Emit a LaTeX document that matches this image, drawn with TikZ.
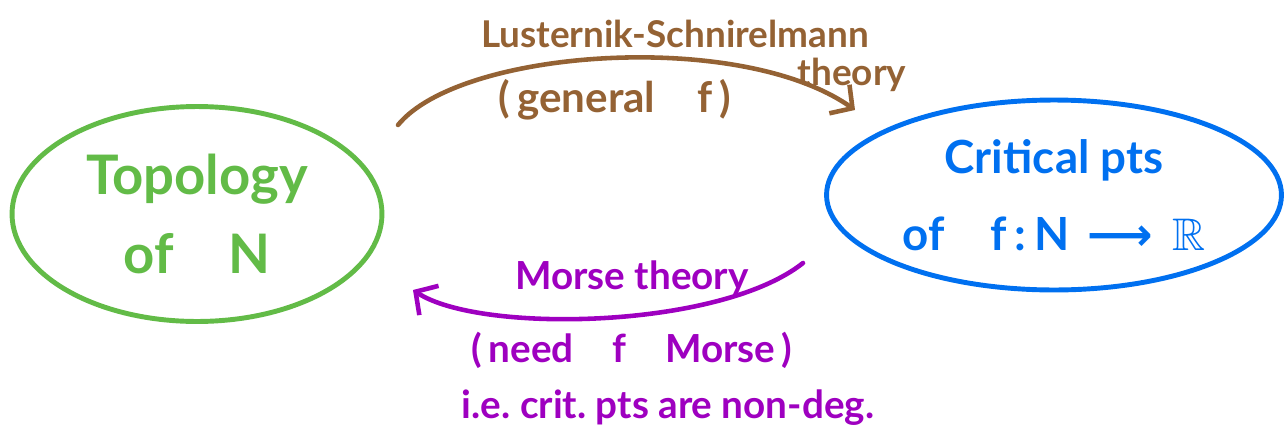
\documentclass[tikz,border=0pt]{standalone}
\usepackage{amssymb}
\usepackage{fontspec}
\setmainfont{Lato}
\newfontfamily\arrowfont{DejaVu Sans}
\usetikzlibrary{shapes.geometric,arrows.meta}

\definecolor{topogreen}{RGB}{98,187,71}
\definecolor{critblue}{RGB}{0,112,240}
\definecolor{lsbrown}{RGB}{148,98,52}
\definecolor{morsepurple}{RGB}{158,0,192}

\begin{document}
\begin{tikzpicture}[x=0.02cm,y=0.02cm,
    blob/.style={ellipse,draw,line width=2.8pt,align=center,inner sep=0pt},
    handarrow/.style={line width=2.6pt,line cap=round,
      -{Straight Barb[length=3.2mm,width=7mm]}}]

        \useasboundingbox (0,0) rectangle (1288,434);

        % the two regions
        \node[blob,draw=topogreen,text=topogreen,minimum width=7.4cm,minimum height=4.3cm,
          font=\fontsize{31}{45}\selectfont\bfseries] (topo) at (197,220) {Topology\\of\quad N};
        \node[blob,draw=critblue,text=critblue,minimum width=9.1cm,minimum height=3.8cm,
          font=\fontsize{26}{44}\selectfont\bfseries] (crit) at (1054,239)
          {Critical pts\\of\quad f\,:\,N\, {\arrowfont\bfseries ⟶}\, $\mathbb{R}$};

        % free ends of the arrows
        \coordinate (lsfrom) at (398,309);
        \coordinate (lsto)   at (855,324);
        \coordinate (mfrom)  at (803,171);
        \coordinate (mto)    at (413,144);

        \begin{scope}[every node/.style={text=lsbrown,font=\fontsize{21}{24}\selectfont\bfseries}]
          \node (ls)      at (675,400) {Lusternik-Schnirelmann};
          \node (lstheo)  at (852,359) {theory};
          \node (general) at (615,334) {\fontsize{24}{28}\selectfont(\,general\quad f\,)};
        \end{scope}

        \begin{scope}[every node/.style={text=morsepurple,font=\fontsize{22}{28}\selectfont\bfseries}]
          \node (morse)   at (632,156) {Morse theory};
          \node (need)    at (632,84)  {(\,need\quad f\quad Morse\,)};
          \node (ie)      at (668,26)  {i.e.\ crit.\ pts are non-deg.};
        \end{scope}

        \draw[handarrow,draw=lsbrown] (lsfrom) .. controls (460,385) and (740,405) .. (lsto);
        \draw[handarrow,draw=morsepurple] (mfrom) .. controls (720,105) and (480,100) .. (mto);

      \end{tikzpicture}
\end{document}
